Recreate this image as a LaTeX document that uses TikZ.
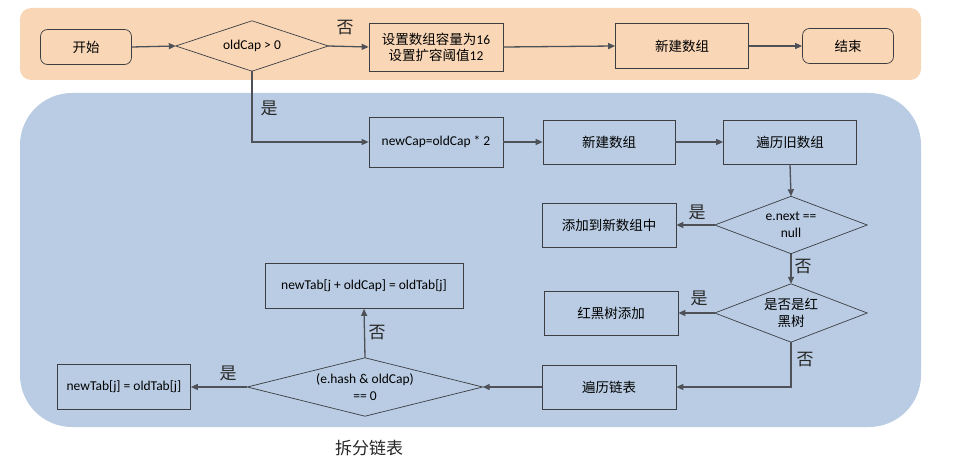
\documentclass[tikz,border=0pt]{standalone}
\usepackage{fontspec}
\setmainfont{Carlito}
\newfontfamily\cjk{Noto Sans CJK SC}
\usetikzlibrary{arrows.meta}
\definecolor{bandorange}{RGB}{249,214,182}
\definecolor{bandblue}{RGB}{185,204,227}
\definecolor{edgegray}{RGB}{60,62,66}
\definecolor{arrowgray}{RGB}{78,82,88}
\tikzset{
  box/.style={draw=edgegray,line width=0.7pt,rectangle,inner sep=2pt,align=center,font=\fontsize{13.5}{16}\selectfont},
  rbox/.style={box,rounded corners=7pt},
  dia/.style={rectangle,inner sep=0pt,align=center,font=\fontsize{13.5}{17}\selectfont},
  dline/.style={draw=edgegray,line width=0.7pt},
  conn/.style={draw=arrowgray,line width=1.3pt,-{Triangle[length=7pt,width=6pt]}},
  lab/.style={font=\cjk\fontsize{17}{19}\selectfont,text=black!85}
}
\newcommand{\cj}[1]{{\cjk\fontsize{13.5}{17}\selectfont #1}}
\newcommand{\diamondof}[1]{\draw[dline] (#1.north) -- (#1.east) -- (#1.south) -- (#1.west) -- cycle;}
\begin{document}
\begin{tikzpicture}[x=1pt,y=-1pt]
\useasboundingbox (0,0) rectangle (953,465);
% bands
\fill[bandorange,rounded corners=11pt] (20,8) rectangle (921,80);
\fill[bandblue,rounded corners=52pt] (20,93) rectangle (921,427);
% top row
\node[rbox,minimum width=91pt,minimum height=35pt] (start) at (86,47) {\cj{开始}};
\node[dia,minimum width=152pt,minimum height=50pt] (d1) at (252,46) {oldCap > 0};
\diamondof{d1}
\node[box,minimum width=134pt,minimum height=48pt] (set) at (436,47) {\cj{设置数组容量为}16\\\cj{设置扩容阈值}12};
\node[box,minimum width=133pt,minimum height=45pt] (new1) at (682,46) {\cj{新建数组}};
\node[rbox,minimum width=91pt,minimum height=35pt] (end) at (848,46) {\cj{结束}};
% blue area
\node[box,minimum width=134pt,minimum height=50pt] (ncap) at (436,142) {newCap=oldCap * 2};
\node[box,minimum width=132pt,minimum height=44pt] (new2) at (609,142) {\cj{新建数组}};
\node[box,minimum width=133pt,minimum height=44pt] (trav) at (790,142) {\cj{遍历旧数组}};
\node[dia,minimum width=152pt,minimum height=57pt] (d2) at (791,225) {e.next ==\\null};
\diamondof{d2}
\node[box,minimum width=134pt,minimum height=44pt] (add) at (609,225) {\cj{添加到新数组中}};
\node[dia,minimum width=152pt,minimum height=58pt] (d3) at (791,313) {\cj{是否是红}\\\cj{黑树}};
\diamondof{d3}
\node[box,minimum width=134pt,minimum height=44pt] (rb) at (611,313) {\cj{红黑树添加}};
\node[box,minimum width=134pt,minimum height=44pt] (tl) at (609,387) {\cj{遍历链表}};
\node[dia,minimum width=235pt,minimum height=58pt] (d4) at (365,387) {(e.hash \& oldCap)\\== 0};
\diamondof{d4}
\node[box,minimum width=133pt,minimum height=45pt] (nt1) at (124,387) {newTab[j] = oldTab[j]};
\node[box,minimum width=198pt,minimum height=45pt] (nt2) at (364,286) {newTab[j + oldCap] = oldTab[j]};
% labels
\node[lab] (no1) at (345,28) {否};
\node[lab] (yes1) at (269,108) {是};
\node[lab] (yes2) at (697,212) {是};
\node[lab] (no2) at (803,267) {否};
\node[lab] (yes3) at (699,298) {是};
\node[lab] (no3) at (805,360) {否};
\node[lab] (yes4) at (228,373) {是};
\node[lab] (no4) at (377,333) {否};
\node[lab] (title) at (369,448) {拆分链表};
% connectors
\draw[conn] (start.east) -- (d1.west);
\draw[conn] (d1.east) -- (set.west);
\draw[conn] (set.east) -- (new1.west);
\draw[conn] (new1.east) -- (end.west);
\draw[conn] (d1.south) |- (ncap.west);
\draw[conn] (ncap.east) -- (new2.west);
\draw[conn] (new2.east) -- (trav.west);
\draw[conn] (trav.south) -- (d2.north);
\draw[conn] (d2.west) -- (add.east);
\draw[conn] (d2.south) -- (d3.north);
\draw[conn] (d3.west) -- (rb.east);
\draw[conn] (d3.south) |- (tl.east);
\draw[conn] (tl.west) -- (d4.east);
\draw[conn] (d4.west) -- (nt1.east);
\draw[conn] (d4.north) -- (nt2.south);
\end{tikzpicture}
\end{document}
